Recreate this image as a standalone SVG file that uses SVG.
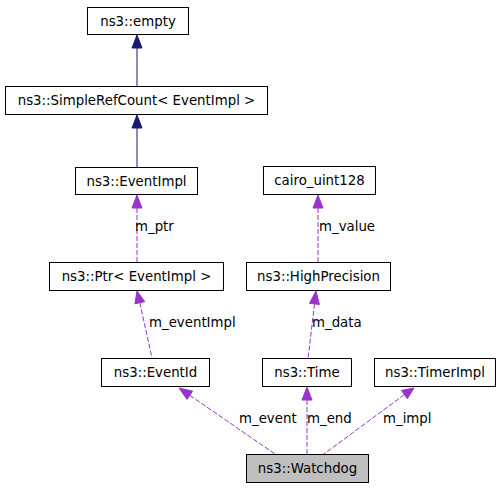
<svg xmlns="http://www.w3.org/2000/svg" width="500" height="488" viewBox="0 0 500 488">
<style>
.box{fill:#ffffff;stroke:#000000;stroke-width:1}
.cur{fill:#bfbfbf;stroke:#000000;stroke-width:1}
.t{font-family:"DejaVu Sans","Liberation Sans",sans-serif;font-size:13.33px;fill:#000000;text-anchor:middle}
.lbl{font-family:"DejaVu Sans","Liberation Sans",sans-serif;font-size:13.33px;fill:#000000}
.inh{stroke:#191970;stroke-width:1;fill:none}
.inhh{fill:#191970;stroke:#191970}
.use{stroke:#9a32cd;stroke-width:1;fill:none;stroke-dasharray:5,2}
.useh{fill:#9a32cd;stroke:#9a32cd}
</style>
<rect width="500" height="488" fill="#ffffff"/>
<g id="connectors">
  <line class="inh" x1="137" y1="48" x2="137" y2="86"/>
  <polygon class="inhh" points="137,35 132,48 142,48"/>
  <line class="inh" x1="137" y1="128" x2="137" y2="167"/>
  <polygon class="inhh" points="137,115 132,128 142,128"/>
  <line class="use" x1="137" y1="208" x2="137" y2="262"/>
  <polygon class="useh" points="137,195 132,208 142,208"/>
  <line class="use" x1="139.8" y1="302.7" x2="152" y2="358"/>
  <polygon class="useh" points="137,291 134.9,303.8 144.7,301.6"/>
  <line class="use" x1="318" y1="208" x2="318" y2="263"/>
  <polygon class="useh" points="318,195 313,208 323,208"/>
  <line class="use" x1="314.5" y1="303.9" x2="308" y2="359"/>
  <polygon class="useh" points="316,291 309.5,303.3 319.4,304.5"/>
  <line class="use" x1="189.8" y1="395.3" x2="275" y2="454"/>
  <polygon class="useh" points="179,388 187,399.4 192.6,391.2"/>
  <line class="use" x1="307" y1="400" x2="307" y2="454"/>
  <polygon class="useh" points="307,387 302,400 312,400"/>
  <line class="use" x1="404.4" y1="394.6" x2="324" y2="454"/>
  <polygon class="useh" points="414,388 401.5,390.5 407.3,398.7"/>
  <text class="lbl" x="135" y="231">m_ptr</text>
  <text class="lbl" x="149" y="327">m_eventImpl</text>
  <text class="lbl" x="319" y="231">m_value</text>
  <text class="lbl" x="312" y="327">m_data</text>
  <text class="lbl" x="239" y="423">m_event</text>
  <text class="lbl" x="307" y="423">m_end</text>
  <text class="lbl" x="383" y="423">m_impl</text>
</g>
<g id="node-empty">
  <rect class="box" x="87.5" y="7.5" width="101" height="27"/>
  <text class="t" x="138" y="26">ns3::empty</text>
</g>
<g id="node-simplerefcount">
  <rect class="box" x="5.5" y="86.5" width="262" height="28"/>
  <text class="t" x="136.5" y="105">ns3::SimpleRefCount&lt; EventImpl &gt;</text>
</g>
<g id="node-eventimpl">
  <rect class="box" x="75.5" y="167.5" width="122" height="27"/>
  <text class="t" x="136.5" y="186">ns3::EventImpl</text>
</g>
<g id="node-ptr">
  <rect class="box" x="49.5" y="262.5" width="174" height="28"/>
  <text class="t" x="136.5" y="281">ns3::Ptr&lt; EventImpl &gt;</text>
</g>
<g id="node-eventid">
  <rect class="box" x="101.5" y="358.5" width="108" height="28"/>
  <text class="t" x="155.5" y="377">ns3::EventId</text>
</g>
<g id="node-cairo">
  <rect class="box" x="263.5" y="166.5" width="112" height="28"/>
  <text class="t" x="319.5" y="185">cairo_uint128</text>
</g>
<g id="node-highprecision">
  <rect class="box" x="246.5" y="262.5" width="144" height="28"/>
  <text class="t" x="318.5" y="281">ns3::HighPrecision</text>
</g>
<g id="node-time">
  <rect class="box" x="262.5" y="358.5" width="89" height="28"/>
  <text class="t" x="307" y="377">ns3::Time</text>
</g>
<g id="node-timerimpl">
  <rect class="box" x="374.5" y="358.5" width="121" height="28"/>
  <text class="t" x="435" y="377">ns3::TimerImpl</text>
</g>
<g id="node-watchdog">
  <rect class="cur" x="246.5" y="454.5" width="122" height="28"/>
  <text class="t" x="307.5" y="473">ns3::Watchdog</text>
</g>
</svg>
